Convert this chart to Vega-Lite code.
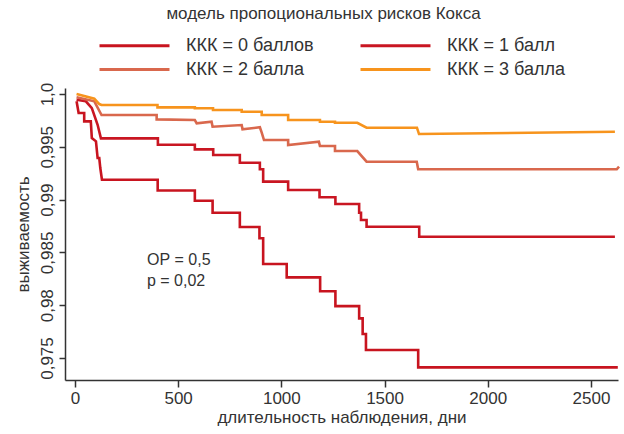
{
  "$schema": "https://vega.github.io/schema/vega-lite/v6.json",
  "width": 553,
  "height": 292,
  "autosize": {"type": "none"},
  "padding": {"left": 65, "top": 88, "right": 6, "bottom": 54},
  "background": "white",
  "config": {
    "view": {"stroke": null},
    "font": "Liberation Sans",
    "axis": {
      "grid": false,
      "domainColor": "#333333",
      "domainWidth": 1.5,
      "tickColor": "#333333",
      "tickWidth": 1.5,
      "tickSize": 7,
      "labelColor": "#333333",
      "labelFontSize": 17,
      "titleColor": "#333333",
      "titleFontSize": 17,
      "titleFontWeight": "normal"
    }
  },
  "title": {
    "text": "модель пропоциональных рисков Кокса",
    "fontSize": 17,
    "fontWeight": "normal",
    "color": "#333333",
    "anchor": "middle",
    "frame": "group",
    "dx": -18,
    "offset": 12
  },
  "layer": [
    {
      "data": {
        "values": [
          {"g": "ККК = 0 баллов", "d": 8, "s": 0.99931},
          {"g": "ККК = 0 баллов", "d": 18, "s": 0.9982},
          {"g": "ККК = 0 баллов", "d": 45, "s": 0.9982},
          {"g": "ККК = 0 баллов", "d": 45, "s": 0.99741},
          {"g": "ККК = 0 баллов", "d": 77, "s": 0.99741},
          {"g": "ККК = 0 баллов", "d": 82, "s": 0.99583},
          {"g": "ККК = 0 баллов", "d": 102, "s": 0.99552},
          {"g": "ККК = 0 баллов", "d": 110, "s": 0.99394},
          {"g": "ККК = 0 баллов", "d": 118, "s": 0.99394},
          {"g": "ККК = 0 баллов", "d": 123, "s": 0.99299},
          {"g": "ККК = 0 баллов", "d": 131, "s": 0.99188},
          {"g": "ККК = 0 баллов", "d": 401, "s": 0.99188},
          {"g": "ККК = 0 баллов", "d": 401, "s": 0.99086},
          {"g": "ККК = 0 баллов", "d": 581, "s": 0.99086},
          {"g": "ККК = 0 баллов", "d": 581, "s": 0.9899},
          {"g": "ККК = 0 баллов", "d": 667, "s": 0.9899},
          {"g": "ККК = 0 баллов", "d": 667, "s": 0.98876},
          {"g": "ККК = 0 баллов", "d": 799, "s": 0.98876},
          {"g": "ККК = 0 баллов", "d": 799, "s": 0.98741},
          {"g": "ККК = 0 баллов", "d": 894, "s": 0.98741},
          {"g": "ККК = 0 баллов", "d": 894, "s": 0.98634},
          {"g": "ККК = 0 баллов", "d": 912, "s": 0.98634},
          {"g": "ККК = 0 баллов", "d": 912, "s": 0.9839},
          {"g": "ККК = 0 баллов", "d": 1026, "s": 0.9839},
          {"g": "ККК = 0 баллов", "d": 1026, "s": 0.98264},
          {"g": "ККК = 0 баллов", "d": 1188, "s": 0.98264},
          {"g": "ККК = 0 баллов", "d": 1188, "s": 0.98133},
          {"g": "ККК = 0 баллов", "d": 1262, "s": 0.98133},
          {"g": "ККК = 0 баллов", "d": 1262, "s": 0.97992},
          {"g": "ККК = 0 баллов", "d": 1377, "s": 0.97992},
          {"g": "ККК = 0 баллов", "d": 1377, "s": 0.97876},
          {"g": "ККК = 0 баллов", "d": 1394, "s": 0.97876},
          {"g": "ККК = 0 баллов", "d": 1394, "s": 0.97727},
          {"g": "ККК = 0 баллов", "d": 1410, "s": 0.97727},
          {"g": "ККК = 0 баллов", "d": 1410, "s": 0.97576},
          {"g": "ККК = 0 баллов", "d": 1663, "s": 0.97576},
          {"g": "ККК = 0 баллов", "d": 1663, "s": 0.97412},
          {"g": "ККК = 0 баллов", "d": 2630, "s": 0.97412},

          {"g": "ККК = 1 балл", "d": 8, "s": 0.99946},
          {"g": "ККК = 1 балл", "d": 53, "s": 0.99931},
          {"g": "ККК = 1 балл", "d": 82, "s": 0.99867},
          {"g": "ККК = 1 балл", "d": 110, "s": 0.99709},
          {"g": "ККК = 1 балл", "d": 126, "s": 0.9958},
          {"g": "ККК = 1 балл", "d": 402, "s": 0.9958},
          {"g": "ККК = 1 балл", "d": 402, "s": 0.9952},
          {"g": "ККК = 1 балл", "d": 581, "s": 0.9952},
          {"g": "ККК = 1 балл", "d": 581, "s": 0.99476},
          {"g": "ККК = 1 балл", "d": 670, "s": 0.99476},
          {"g": "ККК = 1 балл", "d": 670, "s": 0.99422},
          {"g": "ККК = 1 балл", "d": 799, "s": 0.99422},
          {"g": "ККК = 1 балл", "d": 799, "s": 0.99349},
          {"g": "ККК = 1 балл", "d": 896, "s": 0.99349},
          {"g": "ККК = 1 балл", "d": 896, "s": 0.99287},
          {"g": "ККК = 1 балл", "d": 912, "s": 0.99287},
          {"g": "ККК = 1 балл", "d": 912, "s": 0.9917},
          {"g": "ККК = 1 балл", "d": 1033, "s": 0.9917},
          {"g": "ККК = 1 балл", "d": 1033, "s": 0.99091},
          {"g": "ККК = 1 балл", "d": 1185, "s": 0.99091},
          {"g": "ККК = 1 балл", "d": 1185, "s": 0.99022},
          {"g": "ККК = 1 балл", "d": 1262, "s": 0.99022},
          {"g": "ККК = 1 балл", "d": 1262, "s": 0.98958},
          {"g": "ККК = 1 балл", "d": 1377, "s": 0.98958},
          {"g": "ККК = 1 балл", "d": 1377, "s": 0.98876},
          {"g": "ККК = 1 балл", "d": 1386, "s": 0.98876},
          {"g": "ККК = 1 балл", "d": 1386, "s": 0.98807},
          {"g": "ККК = 1 балл", "d": 1413, "s": 0.98807},
          {"g": "ККК = 1 балл", "d": 1413, "s": 0.98743},
          {"g": "ККК = 1 балл", "d": 1668, "s": 0.98743},
          {"g": "ККК = 1 балл", "d": 1668, "s": 0.98649},
          {"g": "ККК = 1 балл", "d": 2616, "s": 0.98649},

          {"g": "ККК = 2 балла", "d": 8, "s": 0.99969},
          {"g": "ККК = 2 балла", "d": 94, "s": 0.99931},
          {"g": "ККК = 2 балла", "d": 129, "s": 0.99801},
          {"g": "ККК = 2 балла", "d": 396, "s": 0.99801},
          {"g": "ККК = 2 балла", "d": 396, "s": 0.9976},
          {"g": "ККК = 2 балла", "d": 581, "s": 0.99754},
          {"g": "ККК = 2 балла", "d": 590, "s": 0.99723},
          {"g": "ККК = 2 балла", "d": 662, "s": 0.99738},
          {"g": "ККК = 2 балла", "d": 667, "s": 0.9969},
          {"g": "ККК = 2 балла", "d": 808, "s": 0.99706},
          {"g": "ККК = 2 балла", "d": 812, "s": 0.99666},
          {"g": "ККК = 2 балла", "d": 896, "s": 0.99685},
          {"g": "ККК = 2 балла", "d": 905, "s": 0.99634},
          {"g": "ККК = 2 балла", "d": 916, "s": 0.99564},
          {"g": "ККК = 2 балла", "d": 1033, "s": 0.99564},
          {"g": "ККК = 2 балла", "d": 1033, "s": 0.99517},
          {"g": "ККК = 2 балла", "d": 1182, "s": 0.99548},
          {"g": "ККК = 2 балла", "d": 1187, "s": 0.99508},
          {"g": "ККК = 2 балла", "d": 1260, "s": 0.99508},
          {"g": "ККК = 2 балла", "d": 1260, "s": 0.9946},
          {"g": "ККК = 2 балла", "d": 1368, "s": 0.9946},
          {"g": "ККК = 2 балла", "d": 1413, "s": 0.99359},
          {"g": "ККК = 2 балла", "d": 1656, "s": 0.99359},
          {"g": "ККК = 2 балла", "d": 1663, "s": 0.99287},
          {"g": "ККК = 2 балла", "d": 2625, "s": 0.99287},
          {"g": "ККК = 2 балла", "d": 2636, "s": 0.99312},

          {"g": "ККК = 3 балла", "d": 8, "s": 1.0},
          {"g": "ККК = 3 балла", "d": 94, "s": 0.99955},
          {"g": "ККК = 3 балла", "d": 118, "s": 0.99905},
          {"g": "ККК = 3 балла", "d": 129, "s": 0.99896},
          {"g": "ККК = 3 балла", "d": 400, "s": 0.99896},
          {"g": "ККК = 3 балла", "d": 400, "s": 0.99874},
          {"g": "ККК = 3 балла", "d": 581, "s": 0.99874},
          {"g": "ККК = 3 балла", "d": 581, "s": 0.99865},
          {"g": "ККК = 3 балла", "d": 669, "s": 0.99865},
          {"g": "ККК = 3 балла", "d": 669, "s": 0.99848},
          {"g": "ККК = 3 балла", "d": 808, "s": 0.99848},
          {"g": "ККК = 3 балла", "d": 808, "s": 0.99832},
          {"g": "ККК = 3 балла", "d": 905, "s": 0.99832},
          {"g": "ККК = 3 балла", "d": 905, "s": 0.99801},
          {"g": "ККК = 3 балла", "d": 1033, "s": 0.99801},
          {"g": "ККК = 3 балла", "d": 1033, "s": 0.99754},
          {"g": "ККК = 3 балла", "d": 1187, "s": 0.99754},
          {"g": "ККК = 3 балла", "d": 1187, "s": 0.99738},
          {"g": "ККК = 3 балла", "d": 1260, "s": 0.99738},
          {"g": "ККК = 3 балла", "d": 1260, "s": 0.99728},
          {"g": "ККК = 3 балла", "d": 1368, "s": 0.99728},
          {"g": "ККК = 3 балла", "d": 1413, "s": 0.99681},
          {"g": "ККК = 3 балла", "d": 1657, "s": 0.99681},
          {"g": "ККК = 3 балла", "d": 1667, "s": 0.99621},
          {"g": "ККК = 3 балла", "d": 2616, "s": 0.99643}
        ]
      },
      "mark": {"type": "line", "strokeWidth": 2.6, "interpolate": "linear", "strokeJoin": "miter"},
      "encoding": {
        "x": {
          "field": "d",
          "type": "quantitative",
          "scale": {"domain": [-48, 2631], "nice": false, "zero": false},
          "axis": {
            "title": "длительность наблюдения, дни",
            "values": [0, 500, 1000, 1500, 2000, 2500],
            "format": "d",
            "labelPadding": 3,
            "titlePadding": 3,
            "labelFlush": false
          }
        },
        "y": {
          "field": "s",
          "type": "quantitative",
          "scale": {"domain": [0.97292, 1.00057], "nice": false, "zero": false},
          "axis": {
            "title": "выживаемость",
            "values": [0.975, 0.98, 0.985, 0.99, 0.995, 1.0],
            "labelExpr": "datum.value >= 1 ? '1,0' : replace(format(datum.value, '.3~f'), '.', ',')",
            "labelAngle": 270,
            "labelAlign": "center",
            "labelBaseline": "bottom",
            "labelPadding": 3,
            "tickSize": 6,
            "titlePadding": 6,
            "labelFlush": false
          }
        },
        "color": {
          "field": "g",
          "type": "nominal",
          "scale": {
            "domain": ["ККК = 0 баллов", "ККК = 1 балл", "ККК = 2 балла", "ККК = 3 балла"],
            "range": ["#c8141f", "#c91622", "#d9684d", "#f7941d"]
          },
          "legend": {
            "title": null,
            "orient": "none",
            "direction": "horizontal",
            "legendX": 59,
            "legendY": -53,
            "columns": 2,
            "symbolType": "M-4,0H4",
            "symbolSize": 306,
            "symbolStrokeWidth": 3,
            "labelFontSize": 18,
            "labelColor": "#333333",
            "labelOffset": 41,
            "columnPadding": 40,
            "rowPadding": 4
          }
        },
        "order": {"value": null}
      }
    },
    {
      "data": {
        "values": [
          {"d": 349, "s": 0.98428, "t": "ОР = 0,5"},
          {"d": 349, "s": 0.98229, "t": "p = 0,02"}
        ]
      },
      "mark": {"type": "text", "align": "left", "baseline": "middle", "fontSize": 16, "color": "#333333"},
      "encoding": {
        "x": {"field": "d", "type": "quantitative"},
        "y": {"field": "s", "type": "quantitative"},
        "text": {"field": "t"}
      }
    }
  ]
}
